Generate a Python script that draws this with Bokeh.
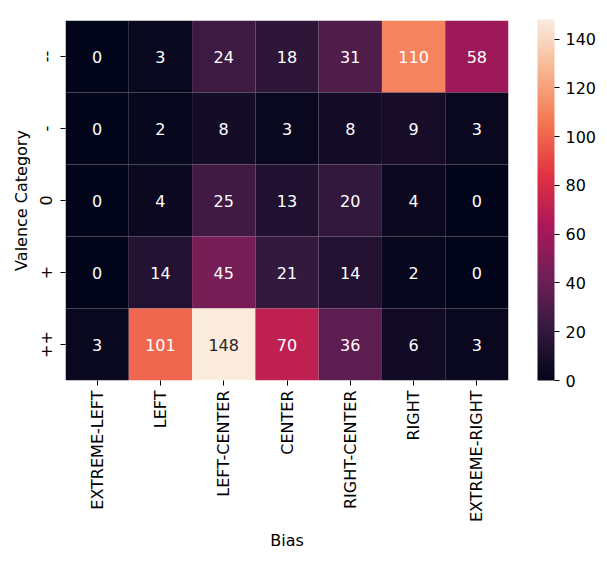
import numpy as np
from bokeh.plotting import figure
from bokeh.models import ColumnDataSource, LinearColorMapper, ColorBar, FixedTicker, FactorRange
from bokeh.core.properties import value
from bokeh.embed import file_html
from bokeh.resources import INLINE

biases = ["EXTREME-LEFT", "LEFT", "LEFT-CENTER", "CENTER", "RIGHT-CENTER", "RIGHT", "EXTREME-RIGHT"]
valence = ["--", "-", "0", "+", "++"]
counts_mm = [0, 3, 24, 18, 31, 110, 58]
counts_m = [0, 2, 8, 3, 8, 9, 3]
counts_0 = [0, 4, 25, 13, 20, 4, 0]
counts_p = [0, 14, 45, 21, 14, 2, 0]
counts_pp = [3, 101, 148, 70, 36, 6, 3]
colorbar_ticks = [0, 20, 40, 60, 80, 100, 120, 140]

rows = [counts_mm, counts_m, counts_0, counts_p, counts_pp]

# rocket-like palette
anchors = ["#03051a", "#35193e", "#701f57", "#ad1759", "#e13342", "#f37651", "#f6b48f", "#faebdd"]
apos = np.linspace(0, 1, len(anchors))
argb = np.array([[int(h[i:i + 2], 16) for i in (1, 3, 5)] for h in anchors], dtype=float)
t = np.linspace(0, 1, 256)
pal = []
for tt in t:
    c = [np.interp(tt, apos, argb[:, k]) for k in range(3)]
    pal.append("#%02x%02x%02x" % tuple(int(round(v)) for v in c))

vmin, vmax = 0, max(max(r) for r in rows)
mapper = LinearColorMapper(palette=pal, low=vmin, high=vmax)

xs, ys, vals, txt, tcol = [], [], [], [], []
for v, r in zip(valence, rows):
    for b, c in zip(biases, r):
        xs.append(b)
        ys.append(v)
        vals.append(c)
        txt.append(str(c))
        tcol.append("#262626" if c / vmax > 0.85 else "white")

src = ColumnDataSource(dict(x=xs, y=ys, v=vals, t=txt, tc=tcol))

p = figure(width=607, height=562, output_backend="svg", toolbar_location=None,
           x_range=FactorRange(factors=biases), y_range=FactorRange(factors=valence[::-1]),
           min_border_left=65, min_border_top=20, min_border_bottom=182, min_border_right=99)
p.rect(x="x", y="y", width=1, height=1, source=src,
       fill_color={"field": "v", "transform": mapper}, line_color=None)
p.text(x="x", y="y", text="t", source=src, text_color="tc", text_align="center",
       text_baseline="middle", text_font=value("DejaVu Sans"), text_font_size="16px")

p.outline_line_color = None
p.grid.grid_line_color = None
for ax in (p.xaxis, p.yaxis):
    ax.axis_line_color = None
    ax.major_tick_line_color = "black"
    ax.major_tick_out = 5
    ax.major_tick_in = 0
    ax.major_label_text_font = "DejaVu Sans"
    ax.major_label_text_font_size = "16px"
    ax.major_label_text_color = "black"
    ax.axis_label_text_font = "DejaVu Sans"
    ax.axis_label_text_font_size = "16px"
    ax.axis_label_text_font_style = "normal"
    ax.axis_label_text_color = "black"
    ax.group_text_font_size = "0px"
p.xaxis.major_label_orientation = np.pi / 2
p.yaxis.major_label_orientation = "parallel"
p.xaxis.axis_label = "Bias"
p.yaxis.axis_label = "Valence Category"
p.xaxis.major_label_standoff = 5
p.yaxis.major_label_standoff = 9
p.xaxis.axis_label_standoff = 6
p.yaxis.axis_label_standoff = 6

cb = ColorBar(color_mapper=mapper, ticker=FixedTicker(ticks=colorbar_ticks), width=17, height=361,
              padding=0, margin=0, major_tick_out=5, major_tick_in=0, major_tick_line_color="black",
              major_label_text_font="DejaVu Sans", major_label_text_font_size="16px",
              major_label_text_color="black", bar_line_color=None, border_line_color=None,
              label_standoff=6, location=(29, 0))
p.add_layout(cb, "right")

open("out.html", "w").write(file_html(p, INLINE))
